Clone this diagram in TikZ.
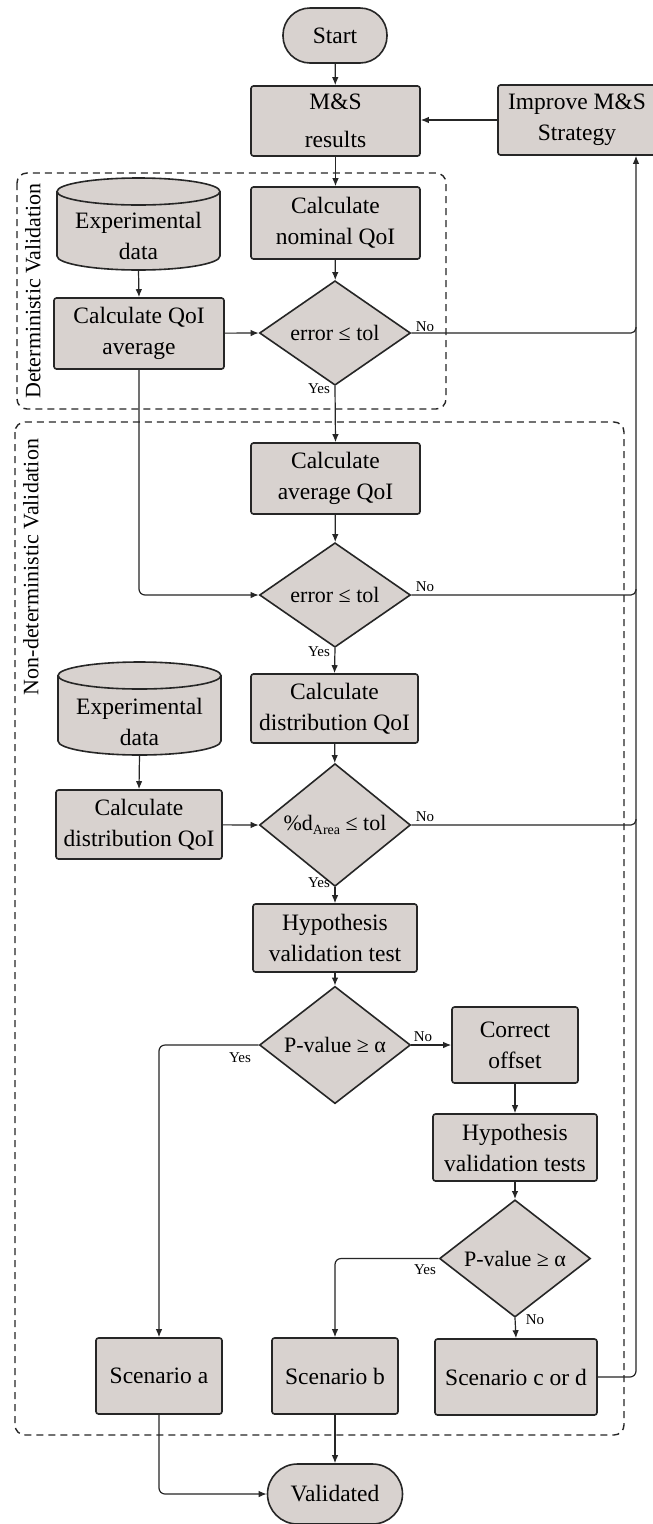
\documentclass[tikz,border=0pt]{standalone}
\usepackage{fontspec}
\setmainfont{Liberation Serif}
\usetikzlibrary{arrows.meta,shapes.geometric,calc}
\definecolor{boxfill}{RGB}{216,210,207}
\definecolor{ink}{RGB}{38,38,38}
\begin{document}
\begin{tikzpicture}[x=1pt,y=-1pt,
  proc/.style={draw=ink, line width=1.6pt, fill=boxfill, rounded corners=2.5pt, align=center,
    inner sep=0pt, text=black, font=\fontsize{23.5pt}{31pt}\selectfont},
  term/.style={proc, rounded corners=27pt},
  dec/.style={diamond, draw=ink, line width=1.6pt, fill=boxfill, minimum width=151pt,
    minimum height=98pt, inner sep=0pt, text=black, font=\fontsize{22pt}{26pt}\selectfont},
  cylbox/.style={minimum width=163pt, minimum height=92pt, inner sep=0pt},
  cyltext/.style={align=center, inner sep=0pt, text=black, font=\fontsize{23.5pt}{31pt}\selectfont},
  conn/.style={draw=ink, line width=1.2pt},
  arr/.style={conn, -{Latex[length=8pt,width=6.5pt]}},
  lab/.style={font=\fontsize{15pt}{17pt}\selectfont, inner sep=0pt, text=black},
  group/.style={draw=ink, line width=1.4pt, dash pattern=on 7pt off 5pt, rounded corners=10pt},
  side/.style={rotate=90, font=\fontsize{22pt}{26pt}\selectfont, inner sep=0pt, text=black}
]
\fill[white] (0,0) rectangle (653,1524);
\useasboundingbox (0,0) rectangle (653,1524);

% group frames
\draw[group] (17,173) rectangle (446,409);
\draw[group] (15,422) rectangle (624,1435);
\node[side] (detlab) at (33,291) {Deterministic Validation};
\node[side] (ndetlab) at (31,567) {Non-deterministic Validation};

% cylinders
\path[fill=boxfill, draw=ink, line width=1.6pt] (57,191.5) -- (57,256)
  arc[start angle=180, end angle=360, x radius=81.5pt, y radius=14pt] -- (220,191.5)
  arc[start angle=0, end angle=180, x radius=81.5pt, y radius=13.5pt] -- cycle;
\draw[ink, line width=1.6pt] (57,191.5) arc[start angle=180, end angle=360, x radius=81.5pt, y radius=13.5pt];
\node[cylbox] (cyl1) at (138.5,224) {};
\node[cyltext] (cyl1t) at (138.5,236) {Experimental\\data};

\path[fill=boxfill, draw=ink, line width=1.6pt] (58,675.5) -- (58,741)
  arc[start angle=180, end angle=360, x radius=81.5pt, y radius=14pt] -- (221,675.5)
  arc[start angle=0, end angle=180, x radius=81.5pt, y radius=13.5pt] -- cycle;
\draw[ink, line width=1.6pt] (58,675.5) arc[start angle=180, end angle=360, x radius=81.5pt, y radius=13.5pt];
\node[cylbox] (cyl2) at (139.5,708.5) {};
\node[cyltext] (cyl2t) at (139.5,722) {Experimental\\data};

% nodes
\node[term, minimum width=104pt, minimum height=55pt] (start) at (335,35.5) {Start};
\node[proc, minimum width=169pt, minimum height=70pt, font=\fontsize{23.5pt}{38pt}\selectfont] (ms) at (335.5,121) {M\&S\\results};
\node[proc, minimum width=158pt, minimum height=70pt] (imp) at (577,120) {Improve M\&S\\Strategy};
\node[proc, minimum width=169pt, minimum height=72pt] (nom) at (335.5,223) {Calculate\\nominal QoI};
\node[dec] (d1) at (335,333) {error ≤ tol};
\node[proc, minimum width=170pt, minimum height=71pt] (qavg) at (139,333.5) {Calculate QoI\\average};
\node[proc, minimum width=169pt, minimum height=71pt] (avg) at (335.5,478.5) {Calculate\\average QoI};
\node[dec] (d2) at (335,595) {error ≤ tol};
\node[proc, minimum width=167pt, minimum height=69pt] (dist) at (334.5,708.5) {Calculate\\distribution QoI};
\node[proc, minimum width=166pt, minimum height=69pt] (distl) at (139,824.5) {Calculate\\distribution QoI};
\node[dec] (d3) at (335,825) {\%d\raisebox{-0.45ex}{\fontsize{14pt}{14pt}\selectfont Area} ≤ tol};
\node[proc, minimum width=164pt, minimum height=68pt] (hyp) at (335,938) {Hypothesis\\validation test};
\node[dec, minimum height=100pt] (d4) at (335,1045) {P-value ≥ α};
\node[proc, minimum width=126pt, minimum height=76pt] (corr) at (515,1045) {Correct\\offset};
\node[proc, minimum width=164pt, minimum height=67pt] (hyps) at (515,1147.5) {Hypothesis\\validation tests};
\node[dec, minimum height=97pt] (d5) at (515,1258.5) {P-value ≥ α};
\node[proc, minimum width=126pt, minimum height=76pt] (sa) at (159,1376) {Scenario a};
\node[proc, minimum width=126pt, minimum height=76pt] (sb) at (335,1376) {Scenario b};
\node[proc, minimum width=162pt, minimum height=76pt] (sc) at (516,1377) {Scenario c or d};
\node[term, minimum width=135pt, minimum height=60pt, rounded corners=30pt] (val) at (335,1494) {Validated};

\coordinate (xr) at (636,0);

% connectors
\draw[arr] (start) -- (ms);
\draw[arr] (imp.west) -- (ms.east |- imp.west);
\draw[arr] (ms) -- (nom);
\draw[arr] (nom) -- (d1);
\draw[arr] (cyl1.south) -- (qavg.north);
\draw[arr] (qavg) -- (d1.west);
\draw[arr] (d1.south) -- (avg.north);
\draw[conn, rounded corners=5pt] (d1.east) -- (d1.east -| xr) -- ++(0,-6);
\draw[arr, rounded corners=6pt] (qavg.south) |- (d2.west);
\draw[arr] (avg) -- (d2);
\draw[conn, rounded corners=5pt] (d2.east) -- (d2.east -| xr) -- ++(0,-6);
\draw[arr] (d2.south) -- (dist.north);
\draw[arr] (dist) -- (d3);
\draw[arr] (cyl2.south) -- (distl.north);
\draw[arr] (distl) -- (d3.west);
\draw[conn, rounded corners=5pt] (d3.east) -- (d3.east -| xr) -- ++(0,-6);
\draw[arr] (d3.south) -- (hyp.north);
\draw[arr] (hyp) -- (d4);
\draw[arr, rounded corners=6pt] (d4.west) -| (sa.north);
\draw[arr] (d4.east) -- (corr.west);
\draw[arr] (corr) -- (hyps);
\draw[arr] (hyps) -- (d5);
\draw[arr, rounded corners=6pt] (d5.west) -| (sb.north);
\draw[arr] (d5.south) -- (sc.north);
\draw[arr, rounded corners=6pt] (sc.east) -| (imp.south -| xr);
\draw[arr, rounded corners=6pt] (sa.south) |- (val.west);
\draw[arr] (sb) -- (val);

% labels
\node[lab] (n1) at (425,327) {No};
\node[lab] (y1) at (319,389) {Yes};
\node[lab] (n2) at (425,587) {No};
\node[lab] (y2) at (319,652) {Yes};
\node[lab] (n3) at (425,817) {No};
\node[lab] (y3) at (319,883) {Yes};
\node[lab] (n4) at (423,1037) {No};
\node[lab] (y4) at (240,1058) {Yes};
\node[lab] (y5) at (425,1270) {Yes};
\node[lab] (n5) at (535,1320) {No};
\end{tikzpicture}
\end{document}
